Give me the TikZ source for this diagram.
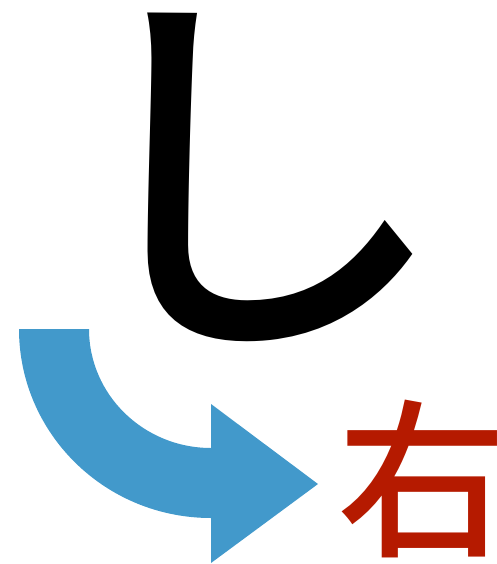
\documentclass[tikz,border=0pt]{standalone}
\usepackage{fontspec}
\newfontfamily\cjk{Noto Sans CJK JP Medium}
\definecolor{arrowblue}{HTML}{4299CB}
\definecolor{kanjired}{HTML}{B51A00}
\begin{document}
\begin{tikzpicture}[x=1pt,y=-1pt,
  glyph/.style={inner sep=0pt,outer sep=0pt,anchor=center}]
\useasboundingbox (0,0) rectangle (497,564);
% hiragana
\node[glyph,font=\cjk\fontsize{390}{390}\selectfont] (shi) at (254,177.5) {し};
% kanji
\node[glyph,font=\cjk\fontsize{170}{170}\selectfont,text=kanjired] (migi) at (422,479) {右};
% curved arrow
\fill[arrowblue] (19,329) -- (89,329)
  arc[start angle=180,end angle=90,x radius=122,y radius=119]
  -- (211,404) -- (318,484) -- (211,563) -- (211,518)
  arc[start angle=90,end angle=180,x radius=192,y radius=189] -- cycle;
\end{tikzpicture}
\end{document}
